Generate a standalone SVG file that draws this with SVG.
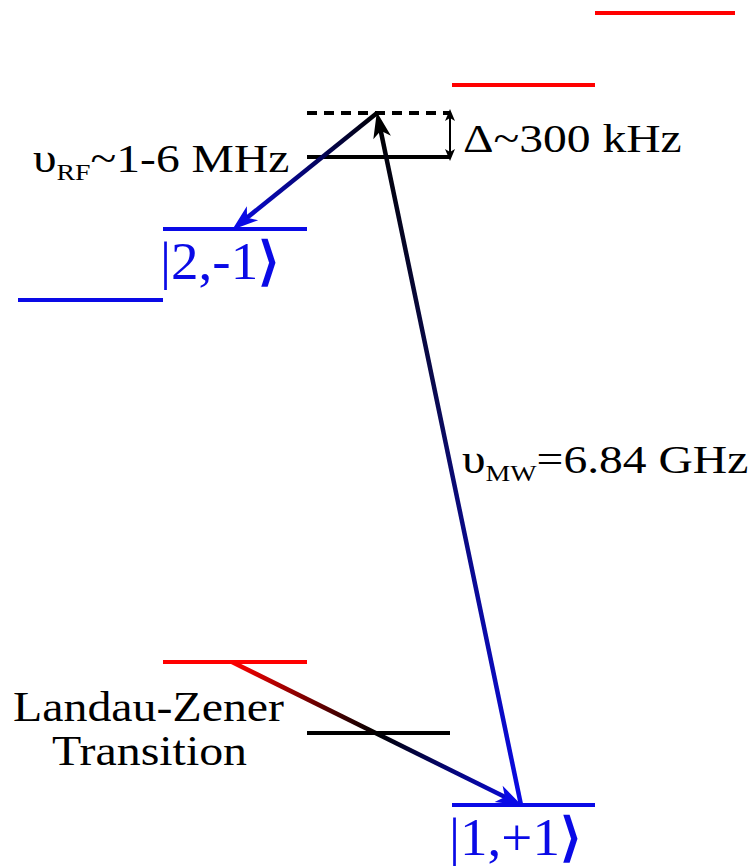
<svg xmlns="http://www.w3.org/2000/svg" width="756" height="866" viewBox="0 0 756 866">
<style>
.lvl{stroke-width:4;fill:none}
.red{stroke:#f00}
.blk{stroke:#000}
.blu{stroke:#0a0ae6}
.t{font-family:"Liberation Serif","Times New Roman",Tinos,serif}
.lbl{fill:#000}
.ket{fill:#0a0ae6}
.arr{stroke-width:4.5;fill:none}
</style>
<defs>
<marker id="hBlue" markerUnits="userSpaceOnUse" markerWidth="30" markerHeight="20" refX="10" refY="9" orient="auto" overflow="visible">
<path d="M0,0 L26,9 L0,18 L7,9 Z" fill="#0a0ae6"/>
</marker>
<marker id="hBlack" markerUnits="userSpaceOnUse" markerWidth="30" markerHeight="20" refX="10" refY="9" orient="auto" overflow="visible">
<path d="M0,0 L26,9 L0,18 L7,9 Z" fill="#000"/>
</marker>
<marker id="hSmall" markerUnits="userSpaceOnUse" markerWidth="14" markerHeight="12" refX="3" refY="5" orient="auto-start-reverse" overflow="visible">
<path d="M0,0 L12,5 L0,10 L3,5 Z" fill="#000"/>
</marker>
<linearGradient id="gRF" gradientUnits="userSpaceOnUse" x1="377" y1="113" x2="233" y2="229">
<stop offset="0" stop-color="#000"/>
<stop offset="1" stop-color="#0a0ae6"/>
</linearGradient>
<linearGradient id="gMW" gradientUnits="userSpaceOnUse" x1="377" y1="113" x2="521" y2="805">
<stop offset="0" stop-color="#000"/>
<stop offset="0.4" stop-color="#0a0a50"/>
<stop offset="1" stop-color="#0a0ae6"/>
</linearGradient>
<linearGradient id="gLZ" gradientUnits="userSpaceOnUse" x1="232" y1="662" x2="521" y2="805">
<stop offset="0" stop-color="#f00"/>
<stop offset="0.5" stop-color="#000"/>
<stop offset="1" stop-color="#0a0ae6"/>
</linearGradient>
</defs>
<rect width="756" height="866" fill="#fff"/>

<g id="level-red-top"><line class="lvl red" x1="595" y1="13" x2="735" y2="13"/></g>
<g id="level-red-upper"><line class="lvl red" x1="452" y1="85" x2="595" y2="85"/></g>
<g id="level-virtual"><line class="lvl blk" x1="307" y1="113" x2="450" y2="113" stroke-dasharray="10 7"/></g>
<g id="level-black-upper"><line class="lvl blk" x1="307" y1="157" x2="450" y2="157"/></g>
<g id="level-2m1">
<line class="lvl blu" x1="163" y1="229" x2="307" y2="229"/>
<text class="t ket" transform="translate(160,279) scale(1.06,1)" font-size="52">|2,-1<tspan font-weight="bold">⟩</tspan></text>
</g>
<g id="level-blue-left"><line class="lvl blu" x1="18" y1="300" x2="163" y2="300"/></g>
<g id="level-red-lower"><line class="lvl red" x1="163" y1="662" x2="307" y2="662"/></g>
<g id="level-black-lower"><line class="lvl blk" x1="307" y1="733" x2="450" y2="733"/></g>
<g id="level-1p1">
<line class="lvl blu" x1="452" y1="805" x2="595" y2="805"/>
<text class="t ket" transform="translate(449,855) scale(1.06,1)" font-size="52">|1,+1<tspan font-weight="bold">⟩</tspan></text>
</g>

<g id="connectors">
<line class="arr" x1="377" y1="113" x2="244.7" y2="219.6" stroke="url(#gRF)" marker-end="url(#hBlue)"/>
<line class="arr" x1="521" y1="805" x2="380.1" y2="127.7" stroke="url(#gMW)" marker-end="url(#hBlack)"/>
<line class="arr" x1="232" y1="662" x2="507.6" y2="798.3" stroke="url(#gLZ)" marker-end="url(#hBlue)"/>
<line x1="450" y1="118" x2="450" y2="152" stroke="#000" stroke-width="2" marker-start="url(#hSmall)" marker-end="url(#hSmall)"/>
</g>

<g id="label-rf">
<text class="t lbl" transform="translate(33,172) scale(1.16,1)" font-size="41">υ<tspan font-size="24" dy="8">RF</tspan><tspan dy="-8">~1-6 MHz</tspan></text>
</g>
<g id="label-delta">
<text class="t lbl" transform="translate(463,152) scale(1.16,1)" font-size="41">Δ~300 kHz</text>
</g>
<g id="label-mw">
<text class="t lbl" transform="translate(462,473) scale(1.16,1)" font-size="41">υ<tspan font-size="24" dy="8">MW</tspan><tspan dy="-8">=6.84 GHz</tspan></text>
</g>
<g id="label-lz">
<text class="t lbl" transform="translate(13,721) scale(1.14,1)" font-size="42">Landau-Zener</text>
<text class="t lbl" transform="translate(52,765) scale(1.14,1)" font-size="42">Transition</text>
</g>
</svg>
